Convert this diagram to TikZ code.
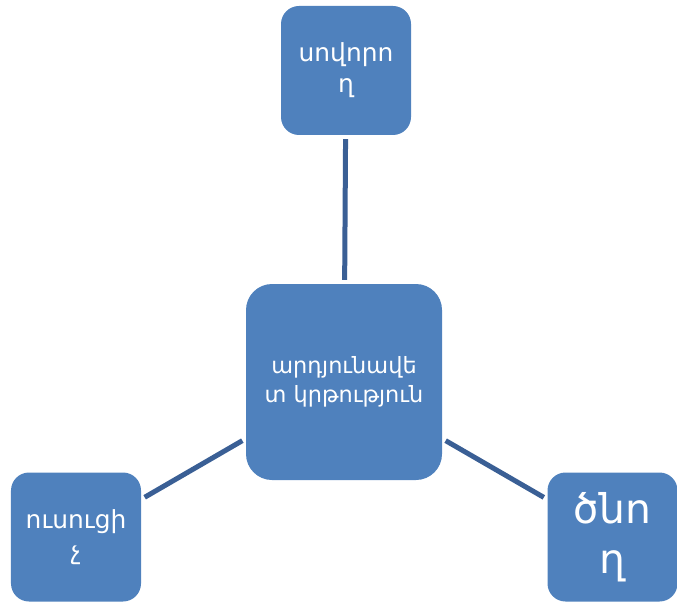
\documentclass[tikz,border=0pt]{standalone}
\usepackage{fontspec}
\setmainfont{DejaVu Sans}
\usepackage{tikz}
\usetikzlibrary{calc}

\definecolor{boxblue}{HTML}{4F81BD}
\definecolor{linkblue}{HTML}{3A5F95}

\begin{document}
\begin{tikzpicture}[x=1bp, y=-1bp,
        box/.style={fill=boxblue, rounded corners=18bp, inner sep=0pt,
            minimum width=130bp, minimum height=129bp, align=center,
            text=white, font=\fontsize{25}{31}\selectfont},
        link/.style={draw=linkblue, line width=5bp, shorten <=4bp, shorten >=4bp}]
        \useasboundingbox (0,0) rectangle (677,607);

        \node[box] (sovorogh) at (346, 70.5) {սովորո\\ղ};
        \node[box, minimum width=196bp, minimum height=196bp, rounded corners=26bp,
            font=\fontsize{22.5}{29}\selectfont] (krtutyun) at (344, 382) {արդյունավե\\տ կրթություն};
        \node[box] (usucich) at (76, 537) {ուսուցի\\չ};
        \node[box, font=\fontsize{41}{50}\selectfont] (tsnogh) at (612.5, 537) {ծնո\\ղ};

        \draw[link] (sovorogh) -- (krtutyun);
        \draw[link] (usucich) -- (krtutyun);
        \draw[link] (tsnogh) -- (krtutyun);
    \end{tikzpicture}
\end{document}
